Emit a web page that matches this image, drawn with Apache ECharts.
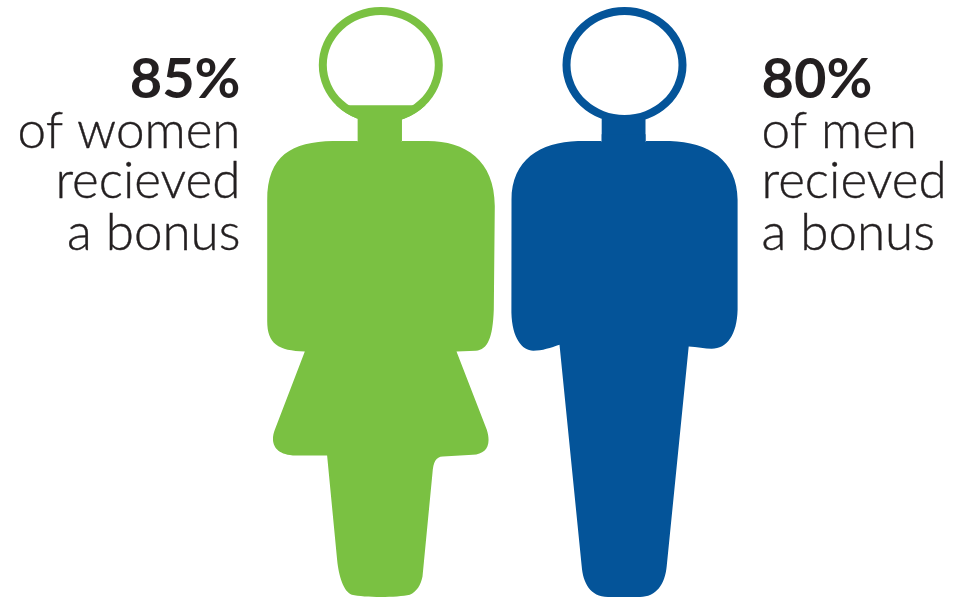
<!DOCTYPE html>
<html>
<head>
<meta charset="utf-8">
<style>html,body{margin:0;padding:0;background:#fff}#chart{width:967px;height:598px}</style>
<script src="https://cdn.jsdelivr.net/npm/echarts@6/dist/echarts.min.js"></script>
</head>
<body>
<div id="chart"></div>
<script>
// Share of each group that received a bonus
const groups = ['Women', 'Men'];
const bonusShare = [85, 80];
const captionLines = [
  ['of women', 'recieved', 'a bonus'],
  ['of men', 'recieved', 'a bonus']
];

const GREEN = '#7ac142';
const BLUE = '#045499';
const INK = '#231f20';
// The head rises slightly above the 100 mark of the scale
const SCALE_TOP = 102;

// Figure outlines, all sharing the 590-tall frame of a whole person
const corners = (l, r) => `M${l} 7L${l} 7M${r} 597L${r} 597`;
const headOuter = cx => `M${cx - 62} 65A62 58 0 1 1 ${cx + 62} 65A62 58 0 1 1 ${cx - 62} 65Z`;
const headInner = cx => `M${cx - 54} 65A54 50 0 1 0 ${cx + 54} 65A54 50 0 1 0 ${cx - 54} 65Z`;
const neck = (l, r) => `M${l} 115L${r} 115L${r} 142L${l} 142Z`;

const womanBody =
  'M333 141C292 142 267 155 267.4 202L267.4 320C267 344 278 351 305 351.7' +
  'L275 430C271 440 272 454 293 455.7L327.3 455.7L337.3 560C339 577 344 592 352 595' +
  'C365 598 397 598 410 595C417 592 421 585 422.7 576.7L432.7 473C433.5 462 436 457 443 456.7' +
  'L473 455C486 454 492 446 487 430L456.7 351.7L476 351C488 350 493 338 494 310' +
  'L495 206C495 160 465 141 428 141Z';
const manBody =
  'M578 141C540 142 511.5 160 511.5 200L511.4 313C512 338 522 351 533.3 351C542 351 551 348 559.5 345' +
  'L581.7 566.7C583 583 590 597.4 608 597.4L640 597.4C656 597.4 665 585 666.7 566.7L688.7 346.7' +
  'C697 347 705 349 711.7 349C727 349 737 335 737.6 310L737.6 200C737.5 160 708 142 670 141Z';

const womanFrame = corners(267.4, 495);
const manFrame = corners(511.4, 737.6);
const figures = [
  {
    color: GREEN, width: 227.6,
    ghost: womanFrame + headOuter(381) + headInner(381) + neck(358, 402),
    solid: womanFrame + headOuter(381) + neck(358, 402) + womanBody
  },
  {
    color: BLUE, width: 226.2,
    ghost: manFrame + headOuter(624.5) + headInner(624.5) + neck(601.7, 645.5),
    solid: manFrame + headOuter(624.5) + neck(601.7, 645.5) + manBody
  }
];

// Each line of a caption: the percentage in bold, then the words below it
const captionBlocks = [
  { x: 240.5, align: 'right' },
  { x: 761.5, align: 'left' }
];
const captionText = [];
captionBlocks.forEach((block, i) => {
  const lineY = [80, 131, 181, 233];
  [bonusShare[i] + '%'].concat(captionLines[i]).forEach((text, j) => {
    captionText.push({
      type: 'text',
      style: {
        text,
        x: block.x,
        y: lineY[j],
        align: block.align,
        verticalAlign: 'middle',
        fill: INK,
        stroke: j === 0 ? null : INK,
        lineWidth: 0.4,
        font: j === 0 ? '700 56px Lato' : '300 51.2px Lato'
      }
    });
  });
});

const chart = echarts.init(document.getElementById('chart'));
chart.setOption({
  animation: false,
  backgroundColor: '#fff',
  grid: { left: 259.25, width: 487, top: 7, bottom: 1 },
  xAxis: { type: 'category', data: groups, show: false },
  yAxis: { type: 'value', min: 0, max: SCALE_TOP, show: false },
  graphic: captionText,
  series: [
    {
      // Head ring and neck, always drawn in full
      name: 'Outline',
      type: 'pictorialBar',
      barGap: '-100%',
      z: 2,
      symbolBoundingData: SCALE_TOP,
      data: groups.map((g, i) => ({
        value: SCALE_TOP,
        symbol: 'path://' + figures[i].ghost,
        symbolSize: [figures[i].width, '100%'],
        itemStyle: { color: figures[i].color }
      }))
    },
    {
      // Silhouette filled up to the group's share
      name: 'Received a bonus',
      type: 'pictorialBar',
      barGap: '-100%',
      z: 3,
      symbolClip: true,
      symbolBoundingData: SCALE_TOP,
      data: bonusShare.map((v, i) => ({
        value: v,
        symbol: 'path://' + figures[i].solid,
        symbolSize: [figures[i].width, '100%'],
        itemStyle: { color: figures[i].color }
      }))
    }
  ]
});
</script>
</body>
</html>
